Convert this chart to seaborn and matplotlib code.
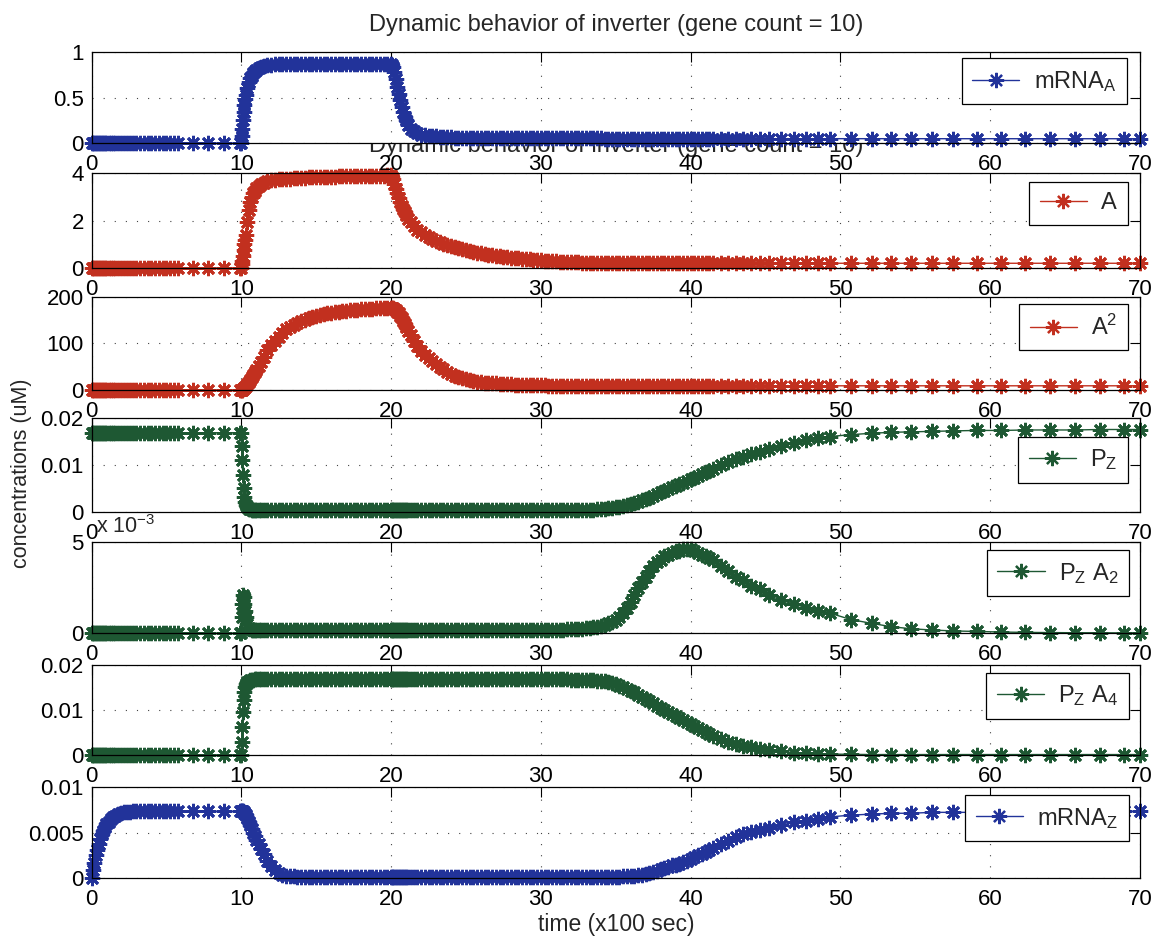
import matplotlib
matplotlib.use("Agg")
import matplotlib.pyplot as plt
import seaborn as sns

# ---------------- data ----------------
time_x100s = [
    0, 0.1, 0.2, 0.3, 0.4, 0.5, 0.6, 0.7, 0.8, 0.9, 1.0,
    1.15, 1.3, 1.45, 1.6,
    1.8, 2.0, 2.2, 2.4, 2.6, 2.8, 3.0,
    3.25, 3.5, 3.75, 4.0, 4.25, 4.5, 4.75, 5.0, 5.25, 5.5, 5.75,
    6.8, 7.8, 8.85, 9.9,
    10.0, 10.03, 10.06, 10.1, 10.15, 10.2, 10.25, 10.3, 10.4, 10.5,
    10.6, 10.7, 10.8, 10.9, 11.0, 11.15, 11.3, 11.5, 11.75, 12.0,
    12.25, 12.5, 12.75, 13.0,
    13.25, 13.5, 13.75, 14.0,
    14.25, 14.5, 14.75, 15.0,
    15.25, 15.5, 15.75, 16.0,
    16.25, 16.5, 16.75, 17.0,
    17.25, 17.5, 17.75, 18.0,
    18.25, 18.5, 18.75, 19.0,
    19.25, 19.5, 19.75, 20.0,
    20.05, 20.1, 20.2, 20.3, 20.4, 20.5, 20.6, 20.7,
    20.8, 20.9, 21.0, 21.15, 21.3, 21.5, 21.75, 22.0,
    22.25, 22.5, 22.75, 23.0,
    23.25, 23.5, 23.75, 24.0,
    24.25, 24.5, 24.75, 25.0,
    25.25, 25.5, 25.75, 26.0,
    26.25, 26.5, 26.75, 27.0,
    27.25, 27.5, 27.75, 28.0,
    28.25, 28.5, 28.75, 29.0,
    29.25, 29.5, 29.75, 30.0,
    30.25, 30.5, 30.75, 31.0,
    31.25, 31.5, 31.75, 32.0,
    32.25, 32.5, 32.75, 33.0,
    33.25, 33.5, 33.75, 34.0,
    34.25, 34.5, 34.75, 35.0,
    35.25, 35.5, 35.75, 36.0,
    36.25, 36.5, 36.75, 37.0,
    37.25, 37.5, 37.75, 38.0,
    38.25, 38.5, 38.75, 39.0,
    39.25, 39.5, 39.75, 40.0,
    40.25, 40.5, 40.75, 41.0,
    41.25, 41.5,
    42.0, 42.5, 43.0, 43.5, 44.0, 44.6, 45.2,
    46.0, 46.9, 47.7, 48.5, 49.3, 50.7, 52.1, 53.4, 54.7, 56.1,
    57.5, 59.1, 60.75, 62.35, 64.0, 65.65, 67.3, 68.9, 70.0,
]

mrna_a = [
    0, 0, 0, 0, 0, 0, 0, 0, 0, 0, 0,
    0, 0, 0, 0,
    0, 0, 0, 0, 0, 0, 0,
    0, 0, 0, 0, 0, 0, 0, 0, 0, 0, 0,
    0, 0, 0, 0,
    0, 0.08, 0.16, 0.25, 0.34, 0.42, 0.48, 0.53, 0.61, 0.67,
    0.71, 0.74, 0.77, 0.79, 0.80, 0.82, 0.835, 0.845, 0.855, 0.86,
    0.865, 0.867, 0.868, 0.869,
    0.87, 0.87, 0.87, 0.87,
    0.871, 0.871, 0.871, 0.871,
    0.872, 0.872, 0.872, 0.872,
    0.872, 0.872, 0.872, 0.872,
    0.873, 0.873, 0.873, 0.873,
    0.873, 0.873, 0.873, 0.873,
    0.873, 0.873, 0.873, 0.873,
    0.86, 0.84, 0.78, 0.70, 0.62, 0.54, 0.47, 0.40,
    0.34, 0.29, 0.25, 0.20, 0.16, 0.13, 0.11, 0.095,
    0.088, 0.083, 0.079, 0.075,
    0.072, 0.069, 0.067, 0.065,
    0.063, 0.062, 0.061, 0.060,
    0.059, 0.058, 0.058, 0.057,
    0.057, 0.056, 0.056, 0.056,
    0.055, 0.055, 0.055, 0.055,
    0.055, 0.055, 0.055, 0.055,
    0.054, 0.054, 0.054, 0.054,
    0.054, 0.054, 0.054, 0.054,
    0.053, 0.053, 0.053, 0.053,
    0.053, 0.053, 0.053, 0.053,
    0.053, 0.053, 0.053, 0.053,
    0.052, 0.052, 0.052, 0.052,
    0.052, 0.052, 0.052, 0.052,
    0.052, 0.052, 0.052, 0.052,
    0.051, 0.051, 0.051, 0.051,
    0.051, 0.051, 0.051, 0.051,
    0.051, 0.051, 0.051, 0.051,
    0.050, 0.050, 0.050, 0.050,
    0.050, 0.050,
    0.050, 0.050, 0.050, 0.050, 0.050, 0.050, 0.050,
    0.050, 0.050, 0.050, 0.050, 0.050, 0.050, 0.050, 0.050, 0.050, 0.050,
    0.050, 0.050, 0.050, 0.050, 0.050, 0.050, 0.050, 0.050, 0.050,
]

protein_a = [
    0, 0, 0, 0, 0, 0, 0, 0, 0, 0, 0,
    0, 0, 0, 0,
    0, 0, 0, 0, 0, 0, 0,
    0, 0, 0, 0, 0, 0, 0, 0, 0, 0, 0,
    0, 0, 0, 0,
    0, 0.15, 0.3, 0.5, 0.75, 1.0, 1.2, 1.4, 1.95, 2.45,
    2.8, 3.0, 3.15, 3.27, 3.36, 3.46, 3.54, 3.6, 3.66, 3.7,
    3.72, 3.74, 3.76, 3.77,
    3.78, 3.79, 3.80, 3.81,
    3.82, 3.83, 3.83, 3.84,
    3.84, 3.85, 3.85, 3.86,
    3.86, 3.87, 3.87, 3.87,
    3.88, 3.88, 3.88, 3.89,
    3.89, 3.89, 3.90, 3.90,
    3.90, 3.90, 3.91, 3.91,
    3.85, 3.75, 3.55, 3.35, 3.15, 2.95, 2.78, 2.62,
    2.48, 2.35, 2.23, 2.07, 1.93, 1.78, 1.62, 1.5,
    1.40, 1.31, 1.23, 1.16,
    1.09, 1.03, 0.97, 0.92,
    0.87, 0.83, 0.79, 0.75,
    0.71, 0.68, 0.65, 0.62,
    0.59, 0.57, 0.54, 0.52,
    0.50, 0.48, 0.46, 0.44,
    0.42, 0.41, 0.39, 0.38,
    0.36, 0.35, 0.34, 0.33,
    0.31, 0.30, 0.29, 0.28,
    0.27, 0.26, 0.25, 0.245,
    0.24, 0.235, 0.23, 0.225,
    0.22, 0.22, 0.215, 0.215,
    0.21, 0.21, 0.21, 0.21,
    0.21, 0.205, 0.205, 0.205,
    0.20, 0.20, 0.20, 0.20,
    0.20, 0.20, 0.20, 0.20,
    0.20, 0.20, 0.20, 0.20,
    0.20, 0.20, 0.20, 0.20,
    0.20, 0.20, 0.20, 0.20,
    0.20, 0.20,
    0.20, 0.20, 0.20, 0.20, 0.20, 0.20, 0.20,
    0.20, 0.20, 0.20, 0.20, 0.20, 0.20, 0.20, 0.20, 0.20, 0.20,
    0.20, 0.20, 0.20, 0.20, 0.20, 0.20, 0.20, 0.20, 0.20,
]

dimer_a2 = [
    0, 0, 0, 0, 0, 0, 0, 0, 0, 0, 0,
    0, 0, 0, 0,
    0, 0, 0, 0, 0, 0, 0,
    0, 0, 0, 0, 0, 0, 0, 0, 0, 0, 0,
    0, 0, 0, 0,
    0, 0.5, 1, 2, 3.5, 5, 7, 9, 13, 17,
    22, 27, 32, 38, 43, 51, 60, 71, 85, 97,
    106, 114, 122, 130,
    135, 140, 144, 148,
    151, 154, 157, 159,
    161, 163, 164.5, 166,
    167, 168, 169, 170,
    171, 171.5, 172.5, 173,
    173.5, 174, 174.5, 175,
    175, 175.5, 175.5, 176,
    176, 175.5, 174, 171.5, 168, 164, 159, 154,
    148, 141, 135, 126, 117, 106, 94, 84,
    76, 69, 62, 55,
    49, 44, 39, 35,
    31, 28, 25, 23,
    21, 19.5, 18, 17,
    16, 15, 14.5, 14,
    13.5, 13, 12.5, 12,
    11.7, 11.4, 11.1, 10.8,
    10.5, 10.2, 10.0, 9.8,
    9.7, 9.6, 9.6, 9.5,
    9.5, 9.4, 9.4, 9.3,
    9.3, 9.3, 9.2, 9.2,
    9.2, 9.1, 9.1, 9.1,
    9.0, 9.0, 9.0, 9.0,
    9.0, 9.0, 9.0, 9.0,
    9.0, 9.0, 9.0, 9.0,
    9.0, 9.0, 9.0, 9.0,
    9.0, 9.0, 9.0, 9.0,
    9.0, 9.0, 9.0, 9.0,
    9.0, 9.0, 9.0, 9.0,
    9.0, 9.0,
    9.0, 9.0, 9.0, 9.0, 9.0, 9.0, 9.0,
    9.0, 9.0, 9.0, 9.0, 9.0, 9.0, 9.0, 9.0, 9.0, 9.0,
    9.0, 9.0, 9.0, 9.0, 9.0, 9.0, 9.0, 9.0, 9.0,
]

pz_free = [
    0.0169, 0.0169, 0.0169, 0.0169, 0.0169, 0.0169, 0.0169, 0.0169, 0.0169, 0.0169, 0.0169,
    0.0169, 0.0169, 0.0169, 0.0169,
    0.0169, 0.0169, 0.0169, 0.0169, 0.0169, 0.0169, 0.0169,
    0.0169, 0.0169, 0.0169, 0.0169, 0.0169, 0.0169, 0.0169, 0.0169, 0.0169, 0.0169, 0.0169,
    0.0169, 0.0169, 0.0169, 0.0169,
    0.0169, 0.014, 0.011, 0.0078, 0.005, 0.0032, 0.0021, 0.0015, 0.0009, 0.0006,
    0.0005, 0.0004, 0.0004, 0.0003, 0.0003, 0.0003, 0.0003, 0.0003, 0.0003, 0.0003,
    0.0003, 0.0003, 0.0003, 0.0003,
    0.0003, 0.0003, 0.0003, 0.0003,
    0.0003, 0.0003, 0.0003, 0.0003,
    0.0003, 0.0003, 0.0003, 0.0003,
    0.0003, 0.0003, 0.0003, 0.0003,
    0.0003, 0.0003, 0.0003, 0.0003,
    0.0003, 0.0003, 0.0003, 0.0003,
    0.0003, 0.0003, 0.0003, 0.0003,
    0.0003, 0.0003, 0.0003, 0.0003, 0.0003, 0.0003, 0.0003, 0.0003,
    0.0003, 0.0003, 0.0003, 0.0003, 0.0003, 0.0003, 0.0003, 0.0003,
    0.0003, 0.0003, 0.0003, 0.0003,
    0.0003, 0.0003, 0.0003, 0.0003,
    0.0003, 0.0003, 0.0003, 0.0003,
    0.0003, 0.0003, 0.0003, 0.0003,
    0.0003, 0.0003, 0.0003, 0.0003,
    0.0003, 0.0003, 0.0003, 0.0003,
    0.0003, 0.0003, 0.0003, 0.0003,
    0.0003, 0.0003, 0.0003, 0.0003,
    0.0003, 0.0003, 0.0003, 0.0003,
    0.0003, 0.0003, 0.0003, 0.0003,
    0.0003, 0.0003, 0.00035, 0.0004,
    0.00042, 0.00045, 0.0005, 0.0006,
    0.00065, 0.0007, 0.0008, 0.0009,
    0.0010, 0.0012, 0.0014, 0.0016,
    0.0018, 0.0021, 0.0024, 0.0027,
    0.0030, 0.0034, 0.0038, 0.0042,
    0.0045, 0.0049, 0.0052, 0.0056,
    0.0059, 0.0062, 0.0066, 0.0069,
    0.0073, 0.0077, 0.0081, 0.0085,
    0.0088, 0.0092,
    0.0099, 0.0106, 0.0113, 0.0118, 0.0123, 0.0128, 0.0134,
    0.0141, 0.0148, 0.0153, 0.0158, 0.0161, 0.0165, 0.0168, 0.0170, 0.0171, 0.0172,
    0.0173, 0.0174, 0.0174, 0.0175, 0.0175, 0.0175, 0.0176, 0.0176, 0.0176,
]

pz_a2 = [
    0, 0, 0, 0, 0, 0, 0, 0, 0, 0, 0,
    0, 0, 0, 0,
    0, 0, 0, 0, 0, 0, 0,
    0, 0, 0, 0, 0, 0, 0, 0, 0, 0, 0,
    0, 0, 0, 0,
    0, 0.0009, 0.0016, 0.0021, 0.0020, 0.0016, 0.0012, 0.0009, 0.0005, 0.0003,
    0.00025, 0.0002, 0.0002, 0.0002, 0.0002, 0.0002, 0.0002, 0.0002, 0.0002, 0.0002,
    0.0002, 0.0002, 0.0002, 0.0002,
    0.0002, 0.0002, 0.0002, 0.0002,
    0.0002, 0.0002, 0.0002, 0.0002,
    0.0002, 0.0002, 0.0002, 0.0002,
    0.0002, 0.0002, 0.0002, 0.0002,
    0.0002, 0.0002, 0.0002, 0.0002,
    0.0002, 0.0002, 0.0002, 0.0002,
    0.0002, 0.0002, 0.0002, 0.0002,
    0.0002, 0.0002, 0.0002, 0.0002, 0.0002, 0.0002, 0.0002, 0.0002,
    0.0002, 0.0002, 0.0002, 0.0002, 0.0002, 0.0002, 0.0002, 0.0002,
    0.0002, 0.0002, 0.0002, 0.0002,
    0.0002, 0.0002, 0.0002, 0.0002,
    0.0002, 0.0002, 0.0002, 0.0002,
    0.0002, 0.0002, 0.0002, 0.0002,
    0.0002, 0.0002, 0.0002, 0.0002,
    0.0002, 0.0002, 0.0002, 0.0002,
    0.0002, 0.0002, 0.0002, 0.0002,
    0.0002, 0.0002, 0.0002, 0.0002,
    0.0002, 0.0002, 0.0002, 0.0002,
    0.0002, 0.0002, 0.00021, 0.00022,
    0.00023, 0.00024, 0.00025, 0.00027,
    0.0003, 0.00033, 0.00037, 0.00042,
    0.00048, 0.00055, 0.00062, 0.0007,
    0.0009, 0.0011, 0.0014, 0.0017,
    0.0021, 0.0025, 0.0028, 0.0031,
    0.0034, 0.0037, 0.0039, 0.0040,
    0.0042, 0.0043, 0.0044, 0.0045,
    0.0045, 0.0046, 0.0046, 0.0046,
    0.0045, 0.0044, 0.0043, 0.0042,
    0.0041, 0.0040,
    0.0037, 0.0034, 0.0031, 0.0029, 0.0026, 0.0024, 0.0021,
    0.0018, 0.0016, 0.0014, 0.0012, 0.0011, 0.00075, 0.00054, 0.00036, 0.00025, 0.00018,
    0.00013, 0.0001, 0.00007, 0.00005, 0.00004, 0.00003, 0.00003, 0.00002, 0.00002,
]

pz_a4 = [
    0, 0, 0, 0, 0, 0, 0, 0, 0, 0, 0,
    0, 0, 0, 0,
    0, 0, 0, 0, 0, 0, 0,
    0, 0, 0, 0, 0, 0, 0, 0, 0, 0, 0,
    0, 0, 0, 0,
    0, 0.003, 0.0062, 0.0095, 0.0123, 0.0141, 0.0152, 0.0158, 0.0163, 0.0165,
    0.0166, 0.0167, 0.0167, 0.0168, 0.0168, 0.0168, 0.0168, 0.0168, 0.0168, 0.0168,
    0.0168, 0.0168, 0.0168, 0.0168,
    0.0168, 0.0168, 0.0168, 0.0168,
    0.0168, 0.0168, 0.0168, 0.0168,
    0.0168, 0.0168, 0.0168, 0.0168,
    0.0168, 0.0168, 0.0168, 0.0168,
    0.0168, 0.0168, 0.0168, 0.0168,
    0.0168, 0.0168, 0.0168, 0.0168,
    0.0168, 0.0168, 0.0168, 0.0168,
    0.0168, 0.0168, 0.0168, 0.0168, 0.0168, 0.0168, 0.0168, 0.0168,
    0.0168, 0.0168, 0.0168, 0.0168, 0.0168, 0.0168, 0.0168, 0.0168,
    0.0168, 0.0168, 0.0168, 0.0168,
    0.0168, 0.0168, 0.0168, 0.0168,
    0.0168, 0.0168, 0.0168, 0.0168,
    0.0168, 0.0168, 0.0168, 0.0168,
    0.0168, 0.0168, 0.0168, 0.0168,
    0.0168, 0.0168, 0.0168, 0.0168,
    0.0168, 0.0168, 0.0168, 0.0168,
    0.0168, 0.0168, 0.0168, 0.0168,
    0.0168, 0.0168, 0.0168, 0.0168,
    0.0168, 0.0168, 0.0168, 0.0167,
    0.0167, 0.0167, 0.0167, 0.0166,
    0.0166, 0.0166, 0.0165, 0.0165,
    0.0164, 0.0162, 0.0160, 0.0157,
    0.0154, 0.0151, 0.0147, 0.0143,
    0.0139, 0.0134, 0.0130, 0.0125,
    0.0120, 0.0115, 0.0110, 0.0105,
    0.0101, 0.0096, 0.0091, 0.0086,
    0.0082, 0.0077, 0.0073, 0.0068,
    0.0064, 0.0059, 0.0055, 0.0051,
    0.0047, 0.0043,
    0.0035, 0.0030, 0.0025, 0.0021, 0.0017, 0.0013, 0.0011,
    0.0008, 0.0005, 0.0004, 0.0003, 0.0002, 0.00015, 0.0001, 0.0001, 0.0001, 0.0001,
    0.0001, 0.0001, 0.0001, 0.0001, 0.0001, 0.0001, 0.0001, 0.0001, 0.0001,
]

mrna_z = [
    0, 0.0009, 0.0017, 0.0025, 0.0031, 0.0037, 0.0043, 0.0048, 0.0052, 0.0056, 0.0059,
    0.0062, 0.0065, 0.0067, 0.0068,
    0.0070, 0.0071, 0.0072, 0.0072, 0.0072, 0.0073, 0.0073,
    0.0073, 0.0073, 0.0073, 0.0073, 0.0073, 0.0073, 0.0073, 0.0073, 0.0073, 0.0073, 0.0073,
    0.0073, 0.0073, 0.0073, 0.0073,
    0.0073, 0.0073, 0.0073, 0.0073, 0.0072, 0.0071, 0.0070, 0.0069, 0.0066, 0.0062,
    0.0058, 0.0054, 0.0050, 0.0046, 0.0042, 0.0037, 0.0032, 0.0026, 0.0019, 0.0013,
    0.0009, 0.0006, 0.0004, 0.0003,
    0.00025, 0.0002, 0.00015, 0.00012,
    0.0001, 0.0001, 0.0001, 0.0001,
    0.0001, 0.0001, 0.0001, 0.0001,
    0.0001, 0.0001, 0.0001, 0.0001,
    0.0001, 0.0001, 0.0001, 0.0001,
    0.0001, 0.0001, 0.0001, 0.0001,
    0.0001, 0.0001, 0.0001, 0.0001,
    0.0001, 0.0001, 0.0001, 0.0001, 0.0001, 0.0001, 0.0001, 0.0001,
    0.0001, 0.0001, 0.0001, 0.0001, 0.0001, 0.0001, 0.0001, 0.0001,
    0.0001, 0.0001, 0.0001, 0.0001,
    0.0001, 0.0001, 0.0001, 0.0001,
    0.0001, 0.0001, 0.0001, 0.0001,
    0.0001, 0.0001, 0.0001, 0.0001,
    0.0001, 0.0001, 0.0001, 0.0001,
    0.0001, 0.0001, 0.0001, 0.0001,
    0.0001, 0.0001, 0.0001, 0.0001,
    0.0001, 0.0001, 0.0001, 0.0001,
    0.0001, 0.0001, 0.0001, 0.0001,
    0.0001, 0.0001, 0.0001, 0.0001,
    0.0001, 0.0001, 0.0001, 0.0001,
    0.00011, 0.00011, 0.00012, 0.00012,
    0.00013, 0.00014, 0.00015, 0.00016,
    0.00018, 0.0002, 0.00023, 0.00026,
    0.0003, 0.00035, 0.0004, 0.0005,
    0.0006, 0.0007, 0.00085, 0.0010,
    0.0011, 0.0012, 0.0014, 0.0015,
    0.0016, 0.0018, 0.0019, 0.0021,
    0.0023, 0.0025, 0.0027, 0.0029,
    0.0031, 0.0033,
    0.0037, 0.0041, 0.0045, 0.0048, 0.0051, 0.0053, 0.0055,
    0.0058, 0.0061, 0.0063, 0.0065, 0.0067, 0.0069, 0.0070, 0.0071, 0.0071, 0.0072,
    0.0072, 0.0072, 0.0073, 0.0073, 0.0073, 0.0073, 0.0073, 0.0073, 0.0073,
]

series_values = [mrna_a, protein_a, dimer_a2, pz_free, pz_a2, pz_a4, mrna_z]
series_labels = [r"mRNA$_\mathrm{A}$", "A", r"A$^\mathrm{2}$", r"P$_\mathrm{Z}$",
                 r"P$_\mathrm{Z}$ A$_\mathrm{2}$", r"P$_\mathrm{Z}$ A$_\mathrm{4}$",
                 r"mRNA$_\mathrm{Z}$"]
y_limits = [(0, 1), (0, 4), (0, 200), (0, 0.02), (0, 0.005), (0, 0.02), (0, 0.01)]
y_ticks = [[0, 0.5, 1], [0, 2, 4], [0, 100, 200], [0, 0.01, 0.02],
           [0, 0.005], [0, 0.01, 0.02], [0, 0.005, 0.01]]
y_tick_labels = [["0", "0.5", "1"], ["0", "2", "4"], ["0", "100", "200"],
                 ["0", "0.01", "0.02"], ["0", "5"], ["0", "0.01", "0.02"],
                 ["0", "0.005", "0.01"]]
x_ticks = [0, 10, 20, 30, 40, 50, 60, 70]
x_tick_labels = ["0", "10", "20", "30", "40", "50", "60", "70"]
title_text = "Dynamic behavior of inverter (gene count = 10)"
x_label_text = "time (x100 sec)"
y_label_text = "concentrations (uM)"
exponent_text = r"x 10$^{-3}$"

for name, vals in zip(series_labels, series_values):
    if len(vals) != len(time_x100s):
        raise ValueError(f"{name}: {len(vals)} values vs {len(time_x100s)} times")

# ---------------- style / layout ----------------
BLUE = "#22339a"
RED = "#c2301f"
GREEN = "#1e5833"
series_colors = [BLUE, RED, RED, GREEN, GREEN, GREEN, BLUE]

FIG_W, FIG_H = 1155, 938
AX_L, AX_R = 91.5, 1140.0
AX_TOPS = [52.0, 173.3, 296.7, 418.3, 541.7, 665.0, 786.7]
AX_BOTS = [143.3, 268.0, 390.0, 511.7, 633.3, 755.0, 878.3]
LEG_RIGHT = [1127, 1127.5, 1128, 1128, 1129, 1129, 1129]
LEG_TOP = [58.3, 181.7, 304, 436.7, 550, 672.7, 795]

TICK_FS = 16
LEG_FS = 17

sns.set_theme(style="white")
plt.rcParams["font.family"] = ["Liberation Sans", "DejaVu Sans"]
plt.rcParams["mathtext.fontset"] = "custom"
plt.rcParams["mathtext.rm"] = "Liberation Sans"
plt.rcParams["mathtext.it"] = "Liberation Sans:italic"
plt.rcParams["mathtext.bf"] = "Liberation Sans:bold"
plt.rcParams["axes.unicode_minus"] = True

fig = plt.figure(figsize=(FIG_W / 100, FIG_H / 100), dpi=100)
fig.patch.set_facecolor("white")

axes = []
for i in range(7):
    l = AX_L / FIG_W
    w = (AX_R - AX_L) / FIG_W
    b = 1 - AX_BOTS[i] / FIG_H
    h = (AX_BOTS[i] - AX_TOPS[i]) / FIG_H
    ax = fig.add_axes([l, b, w, h], zorder=20 - i)
    ax.set_facecolor("white")
    axes.append(ax)

    sns.lineplot(x=time_x100s, y=series_values[i], ax=ax, color=series_colors[i],
                 estimator=None, sort=False, legend=False,
                 marker=(8, 2, 0), markersize=11, markeredgewidth=2.0,
                 markeredgecolor=series_colors[i], markerfacecolor=series_colors[i],
                 linewidth=1.0, label=series_labels[i])
    for ln in ax.lines:
        ln.set_clip_on(False)

    ax.set_xlim(0, 70)
    ax.set_ylim(*y_limits[i])
    ax.set_xticks(x_ticks, labels=x_tick_labels)
    ax.set_yticks(y_ticks[i], labels=y_tick_labels[i])
    ax.set_xlabel("")
    ax.set_ylabel("")
    ax.tick_params(axis="both", direction="in", length=7.5, width=0.8, color="black",
                   top=True, right=True, labelsize=TICK_FS, labelcolor="black")
    ax.tick_params(axis="x", pad=8.0)
    ax.tick_params(axis="y", pad=5.5)
    ax.grid(True, linestyle=(0, (1, 9)), color="#444444", linewidth=0.8)
    ax.set_axisbelow(True)
    for sp in ax.spines.values():
        sp.set_visible(True)
        sp.set_color("black")
        sp.set_linewidth(0.9)

    xf = (LEG_RIGHT[i] - AX_L) / (AX_R - AX_L)
    yf = (AX_BOTS[i] - LEG_TOP[i]) / (AX_BOTS[i] - AX_TOPS[i])
    leg = ax.legend(loc="upper right", bbox_to_anchor=(xf, yf), borderaxespad=0,
                    frameon=True, fancybox=False, framealpha=1, edgecolor="black",
                    fontsize=LEG_FS, handlelength=2.0, handletextpad=0.6,
                    borderpad=0.45, numpoints=1)
    leg.get_frame().set_linewidth(0.9)
    for lh in leg.get_lines():
        lh.set_markeredgewidth(1.6)

axes[0].set_title(title_text, fontsize=17, pad=15)
axes[1].set_title(title_text, fontsize=17, pad=15)

axes[4].text((96 - AX_L) / (AX_R - AX_L), 1 + 8.7 / (AX_BOTS[4] - AX_TOPS[4]),
             exponent_text, transform=axes[4].transAxes, ha="left", va="baseline",
             fontsize=15.5)

fig.text((AX_L + AX_R) / 2 / FIG_W, 1 - 931 / FIG_H, x_label_text,
         ha="center", va="baseline", fontsize=16.5)
fig.text(22 / FIG_W, 1 - 473.5 / FIG_H, y_label_text, rotation=90,
         ha="center", va="center", fontsize=15.5)

fig.savefig("out.png", dpi=100, facecolor="white")
